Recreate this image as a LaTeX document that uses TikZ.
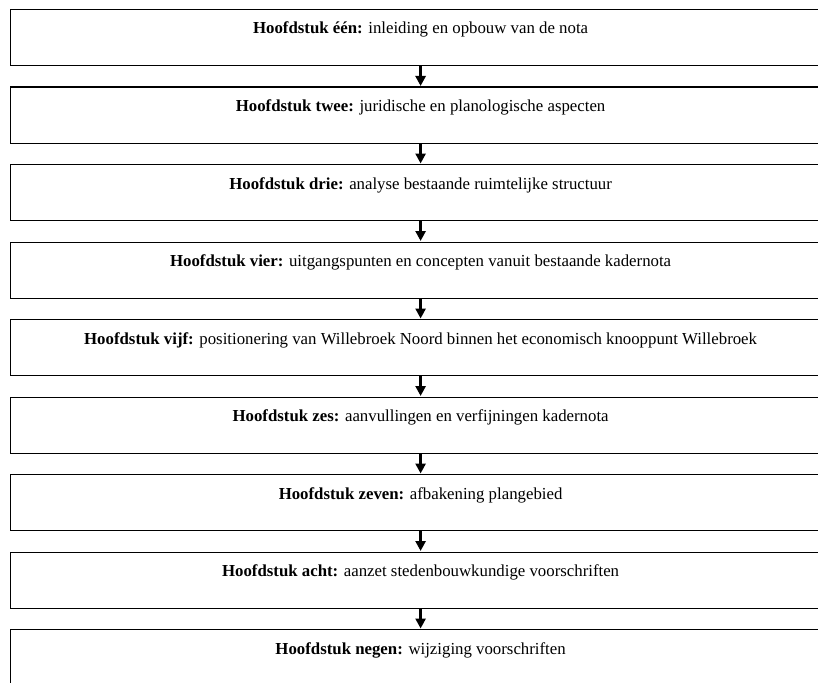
\documentclass[tikz,border=0pt]{standalone}
\usepackage{fontspec}
\setmainfont{Liberation Serif}
\usetikzlibrary{arrows.meta}
\begin{document}
\begin{tikzpicture}[x=1pt,y=-1pt,
  chapbox/.style={draw, line width=1.2pt, minimum width=820pt, minimum height=56pt, inner sep=0pt, anchor=north west},
  chaptext/.style={anchor=base, inner sep=0pt, font=\fontsize{16.8}{19}\selectfont},
  flow/.style={line width=3.2pt, -{Triangle[width=10pt,length=10pt]}, shorten >=0.5pt}]
\useasboundingbox (0,0) rectangle (818,682);
\clip (0,0) rectangle (818,682);
\foreach \i/\t/\d in {
  1/{Hoofdstuk één:}/{inleiding en opbouw van de nota},
  2/{Hoofdstuk twee:}/{juridische en planologische aspecten},
  3/{Hoofdstuk drie:}/{analyse bestaande ruimtelijke structuur},
  4/{Hoofdstuk vier:}/{uitgangspunten en concepten vanuit bestaande kadernota},
  5/{Hoofdstuk vijf:}/{positionering van Willebroek Noord binnen het economisch knooppunt Willebroek},
  6/{Hoofdstuk zes:}/{aanvullingen en verfijningen kadernota},
  7/{Hoofdstuk zeven:}/{afbakening plangebied},
  8/{Hoofdstuk acht:}/{aanzet stedenbouwkundige voorschriften},
  9/{Hoofdstuk negen:}/{wijziging voorschriften}} {
  \node[chapbox] (b\i) at (10, {9+(\i-1)*77.5}) {};
  \node[chaptext] (t\i) at ([yshift=-25pt]b\i.north) {\textbf{\t} \d};
}
\foreach \i [evaluate=\i as \j using int(\i+1)] in {1,...,8} {
  \draw[flow] (b\i.south) -- (b\j.north);
}
\end{tikzpicture}
\end{document}
